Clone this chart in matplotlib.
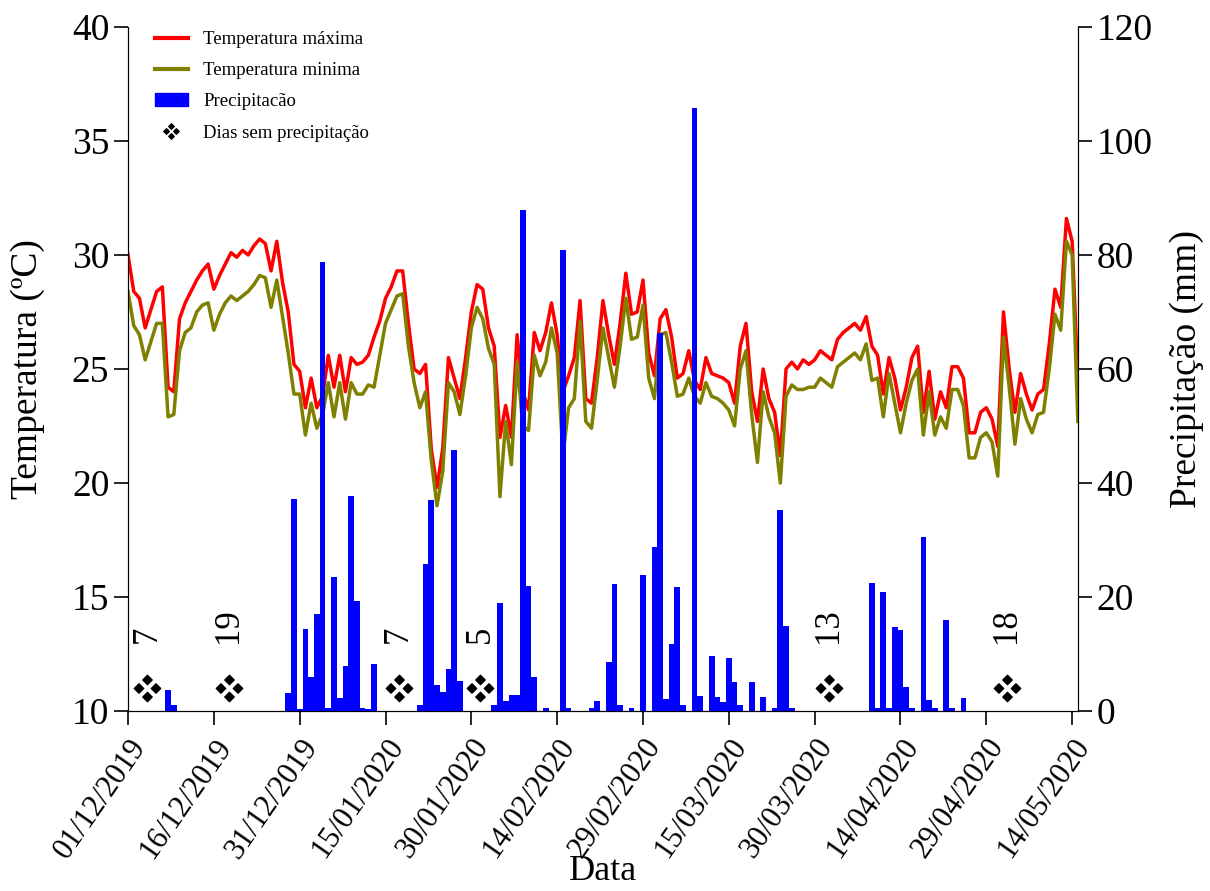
import pandas as pd
import matplotlib
matplotlib.use("Agg")
import matplotlib.pyplot as plt
import matplotlib.dates as mdates
from matplotlib.path import Path
from matplotlib.lines import Line2D
from matplotlib.patches import Patch

plt.rcParams["font.family"] = ["Liberation Serif", "DejaVu Serif"]

# daily series, 01/12/2019 -> 15/05/2020
start = pd.Timestamp("2019-12-01")

tmax = [30.0, 28.4, 28.1, 26.8, 27.6, 28.4, 28.6, 24.2, 24.0, 27.2,
        27.9, 28.4, 28.9, 29.3, 29.6, 28.5, 29.1, 29.6, 30.1, 29.9,
        30.2, 30.0, 30.4, 30.7, 30.5, 29.3, 30.6, 28.8, 27.5, 25.2,
        24.9, 23.3, 24.6, 23.3, 23.8, 25.6, 24.2, 25.6, 24.0, 25.5,
        25.2, 25.3, 25.6, 26.4, 27.1, 28.1, 28.6, 29.3, 29.3, 27.0,
        25.0, 24.8, 25.2, 21.5, 19.8, 21.5, 25.5, 24.6, 23.7, 25.5,
        27.5, 28.7, 28.5, 26.8, 26.0, 22.0, 23.4, 22.0, 26.5, 24.0,
        23.2, 26.6, 25.8, 26.6, 27.9, 26.5, 24.0, 24.7, 25.5, 28.0,
        23.7, 23.5, 25.5, 28.0, 26.5, 25.2, 27.0, 29.2, 27.4, 27.5,
        28.9, 25.7, 24.7, 27.2, 27.6, 26.4, 24.6, 24.8, 25.8, 24.5,
        24.1, 25.5, 24.8, 24.7, 24.6, 24.4, 23.5, 26.0, 27.0, 24.0,
        22.7, 25.0, 23.7, 23.1, 21.2, 25.0, 25.3, 25.0, 25.4, 25.2,
        25.4, 25.8, 25.6, 25.4, 26.3, 26.6, 26.8, 27.0, 26.7, 27.3,
        26.0, 25.6, 23.9, 25.5, 24.6, 23.2, 24.2, 25.5, 26.0, 23.1,
        24.9, 22.8, 24.0, 23.3, 25.1, 25.1, 24.6, 22.2, 22.2, 23.1,
        23.3, 22.8, 21.6, 27.5, 25.0, 23.1, 24.8, 23.9, 23.2, 23.9,
        24.1, 26.1, 28.5, 27.7, 31.6, 30.6, 24.5]

tmin = [28.4, 26.9, 26.5, 25.4, 26.2, 27.0, 27.0, 22.9, 23.0, 25.8,
        26.6, 26.8, 27.5, 27.8, 27.9, 26.7, 27.4, 27.9, 28.2, 28.0,
        28.2, 28.4, 28.7, 29.1, 29.0, 27.7, 28.9, 27.3, 25.7, 23.9,
        23.9, 22.1, 23.5, 22.4, 23.0, 24.4, 22.9, 24.4, 22.8, 24.4,
        23.9, 23.9, 24.3, 24.2, 25.6, 27.0, 27.6, 28.2, 28.3, 26.0,
        24.4, 23.3, 24.0, 21.0, 19.0, 20.5, 24.4, 24.0, 23.0, 24.7,
        26.8, 27.7, 27.2, 25.9, 25.2, 19.4, 22.7, 20.8, 25.3, 22.5,
        22.3, 25.6, 24.7, 25.3, 26.8, 25.7, 21.2, 23.3, 23.7, 27.1,
        22.7, 22.4, 24.5, 26.8, 25.5, 24.2, 26.0, 28.1, 26.3, 26.4,
        27.8, 24.6, 23.7, 26.5, 26.6, 25.3, 23.8, 23.9, 24.6, 23.8,
        23.5, 24.4, 23.8, 23.7, 23.5, 23.2, 22.5, 25.0, 25.8, 23.0,
        20.9, 24.0, 22.9, 22.2, 20.0, 23.8, 24.3, 24.1, 24.1, 24.2,
        24.2, 24.6, 24.4, 24.2, 25.1, 25.3, 25.5, 25.7, 25.4, 26.1,
        24.5, 24.6, 22.9, 24.8, 23.5, 22.2, 23.5, 24.5, 25.0, 22.1,
        24.0, 22.1, 22.9, 22.4, 24.1, 24.1, 23.4, 21.1, 21.1, 22.0,
        22.2, 21.8, 20.3, 26.4, 24.2, 21.7, 23.7, 22.8, 22.2, 23.0,
        23.1, 25.0, 27.4, 26.7, 30.6, 30.0, 22.7]

# rainy days (offset from start) and rainfall in mm
rain_day = [7, 8, 28, 29, 30, 31, 32, 33, 34, 35, 36, 37, 38, 39, 40, 41, 42, 43,
            51, 52, 53, 54, 55, 56, 57, 58, 64, 65, 66, 67, 68, 69, 70, 71, 73,
            76, 77, 81, 82, 84, 85, 86, 88, 90, 92, 93, 94, 95, 96, 97, 99, 100,
            102, 103, 104, 105, 106, 107, 109, 111, 113, 114, 115, 116,
            130, 131, 132, 133, 134, 135, 136, 137, 139, 140, 141, 143, 144, 146]
rain_mm = [3.6, 1.0, 3.2, 37.2, 0.3, 14.4, 6.0, 17.0, 78.7, 0.5, 23.5, 2.3, 7.9, 37.7, 19.3, 0.5, 0.4, 8.2,
           1.1, 25.8, 37.0, 4.6, 3.4, 7.4, 45.8, 5.3, 1.1, 18.9, 1.7, 2.8, 2.8, 87.8, 21.9, 5.9, 0.6,
           80.9, 0.6, 0.6, 1.7, 8.6, 22.3, 1.1, 0.6, 23.8, 28.8, 66.3, 2.1, 11.8, 21.8, 1.1, 105.8, 2.6,
           9.7, 2.4, 1.6, 9.3, 5.1, 1.0, 5.1, 2.4, 0.6, 35.3, 15.0, 0.6,
           22.4, 0.5, 20.8, 0.5, 14.8, 14.2, 4.2, 0.5, 30.5, 1.9, 0.5, 16.0, 0.5, 2.3]

# dry spells: where the symbol sits and how many days without rain
dry_day = [3.3, 17.6, 47.3, 61.6, 122.5, 153.6]
dry_count = [7, 19, 7, 5, 13, 18]


def four_diamonds(off=1.0, h=0.55):
    verts, codes = [], []
    for cx, cy in [(0, off), (off, 0), (0, -off), (-off, 0)]:
        verts += [(cx + h, cy), (cx, cy + h), (cx - h, cy), (cx, cy - h), (cx + h, cy)]
        codes += [Path.MOVETO, Path.LINETO, Path.LINETO, Path.LINETO, Path.CLOSEPOLY]
    return Path(verts, codes)


dates = pd.date_range(start, periods=len(tmax), freq="D")
rain_dates = [start + pd.Timedelta(days=d) for d in rain_day]
dry_dates = [start + pd.Timedelta(days=d) for d in dry_day]
diamond = four_diamonds()

fig = plt.figure(figsize=(12.1, 8.91), dpi=100)
ax = fig.add_axes([0.1058, 0.202, 0.785, 0.7678])
ax2 = ax.twinx()

ax.plot(dates, tmax, color="#ff0000", lw=2.5)
ax.plot(dates, tmin, color="#808000", lw=2.5)
ax2.bar(rain_dates, rain_mm, width=1.0, color="#0000ff", align="center")

ax.plot(dry_dates, [11.0] * len(dry_dates), ls="none", marker=diamond,
        ms=19, color="black")
for d, n in zip(dry_dates, dry_count):
    ax.text(d, 13.0, str(n), rotation=90, ha="center", va="bottom", fontsize=25)

ax.set_xlim(start, start + pd.Timedelta(days=166))
ax.set_ylim(10, 40)
ax2.set_ylim(0, 120)
ax.set_yticks(range(10, 41, 5))
ax2.set_yticks(range(0, 121, 20))

ax.set_xticks(pd.date_range(start, periods=12, freq="15D"))
ax.xaxis.set_major_formatter(mdates.DateFormatter("%d/%m/%Y"))
for lbl in ax.get_xticklabels():
    lbl.set_rotation(55)
    lbl.set_ha("right")
    lbl.set_rotation_mode("anchor")
    lbl.set_fontsize(22)

for a in (ax, ax2):
    a.spines["top"].set_visible(False)
    a.tick_params(direction="out", length=10, width=1.2, labelsize=27)
ax.tick_params(axis="x", labelsize=22, pad=6)

ax.set_ylabel("Temperatura (ºC)", fontsize=27)
ax.yaxis.set_label_coords(-0.087, 0.5)
ax2.set_ylabel("Precipitação (mm)", fontsize=27, labelpad=12)
ax.set_xlabel("Data", fontsize=26)
ax.xaxis.set_label_coords(0.5, -0.21)

handles = [
    Line2D([], [], color="#ff0000", lw=3),
    Line2D([], [], color="#808000", lw=3),
    Patch(color="#0000ff"),
    Line2D([], [], ls="none", marker=diamond, ms=11, color="black"),
]
labels = ["Temperatura máxima", "Temperatura minima", "Precipitacão",
          "Dias sem precipitação"]
ax2.legend(handles, labels, loc="upper left", bbox_to_anchor=(0.02, 1.005),
           frameon=False, fontsize=13.5, handlelength=1.8, labelspacing=0.75,
           borderaxespad=0)

fig.savefig("out.png", dpi=100)
